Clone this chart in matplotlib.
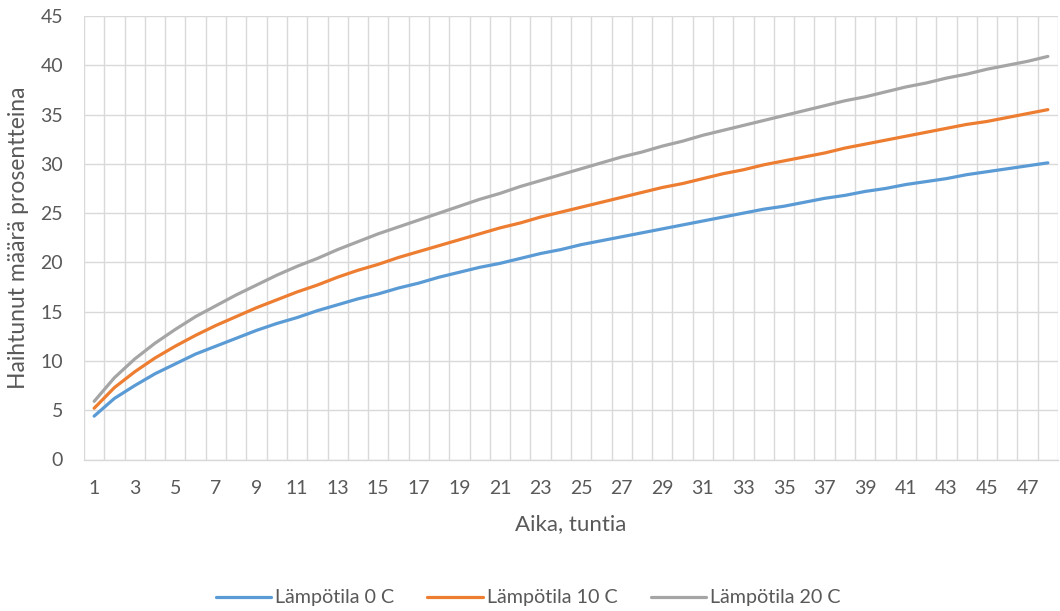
import matplotlib
matplotlib.use("Agg")
import matplotlib.pyplot as plt
from matplotlib.ticker import FixedLocator

hours = list(range(1, 49))

temp_0 = [4.4, 6.2, 7.5, 8.7, 9.7, 10.7, 11.5, 12.3, 13.1, 13.8,
          14.4, 15.1, 15.7, 16.3, 16.8, 17.4, 17.9, 18.5, 19.0, 19.5,
          19.9, 20.4, 20.9, 21.3, 21.8, 22.2, 22.6, 23.0, 23.4, 23.8,
          24.2, 24.6, 25.0, 25.4, 25.7, 26.1, 26.5, 26.8, 27.2, 27.5,
          27.9, 28.2, 28.5, 28.9, 29.2, 29.5, 29.8, 30.1]

temp_10 = [5.2, 7.3, 8.9, 10.3, 11.5, 12.6, 13.6, 14.5, 15.4, 16.2,
           17.0, 17.7, 18.5, 19.2, 19.8, 20.5, 21.1, 21.7, 22.3, 22.9,
           23.5, 24.0, 24.6, 25.1, 25.6, 26.1, 26.6, 27.1, 27.6, 28.0,
           28.5, 29.0, 29.4, 29.9, 30.3, 30.7, 31.1, 31.6, 32.0, 32.4,
           32.8, 33.2, 33.6, 34.0, 34.3, 34.7, 35.1, 35.5]

temp_20 = [5.9, 8.3, 10.2, 11.8, 13.2, 14.5, 15.6, 16.7, 17.7, 18.7,
           19.6, 20.4, 21.3, 22.1, 22.9, 23.6, 24.3, 25.0, 25.7, 26.4,
           27.0, 27.7, 28.3, 28.9, 29.5, 30.1, 30.7, 31.2, 31.8, 32.3,
           32.9, 33.4, 33.9, 34.4, 34.9, 35.4, 35.9, 36.4, 36.8, 37.3,
           37.8, 38.2, 38.7, 39.1, 39.6, 40.0, 40.4, 40.9]

series_labels = ["Lämpötila 0 C", "Lämpötila 10 C", "Lämpötila 20 C"]
colors = ["#5B9BD5", "#ED7D31", "#A5A5A5"]
y_ticks = [0, 5, 10, 15, 20, 25, 30, 35, 40, 45]
x_tick_labels = [str(h) for h in hours if h % 2 == 1]

plt.rcParams['font.family'] = ['Lato', 'DejaVu Sans']
text_color = "#595959"
grid_color = "#D9D9D9"

fig = plt.figure(figsize=(10.6, 6.11), dpi=100)
ax = fig.add_axes([84/1060, 1-459.5/611, (1058-84)/1060, (459.5-16)/611])

for vals, lab, col in zip([temp_0, temp_10, temp_20], series_labels, colors):
    ax.plot(hours, vals, color=col, lw=2.3, label=lab, solid_capstyle='round', zorder=3)

ax.set_xlim(0.5, 48.5)
ax.set_ylim(0, 45)
ax.set_yticks(y_ticks)
odd = [h for h in hours if h % 2 == 1]
ax.set_xticks(odd)
ax.set_xticklabels(x_tick_labels)
ax.xaxis.set_minor_locator(FixedLocator([h + 0.5 for h in [0] + hours]))
ax.grid(True, which='major', axis='y', color=grid_color, lw=1.0)
ax.grid(True, which='minor', axis='x', color=grid_color, lw=1.0)
ax.grid(False, which='major', axis='x')
for s in ['top', 'right', 'left']:
    ax.spines[s].set_visible(False)
ax.spines['bottom'].set_color(grid_color)
ax.spines['bottom'].set_linewidth(1.0)
ax.tick_params(axis='both', which='both', length=0, labelsize=14, colors=text_color)
ax.tick_params(axis='y', pad=15)
ax.tick_params(axis='x', pad=15)
ax.set_axisbelow(True)

ax.set_xlabel("Aika, tuntia", fontsize=16, color=text_color, labelpad=12)
ax.set_ylabel("Haihtunut määrä prosentteina", fontsize=16.5, color=text_color, labelpad=8)

fig.legend(loc='center', bbox_to_anchor=(528/1060, 1-598/611), ncol=3, frameon=False,
           fontsize=14.2, handlelength=2.8, handletextpad=0.2, columnspacing=1.7,
           labelcolor=text_color)

fig.savefig("out.png", dpi=100)
